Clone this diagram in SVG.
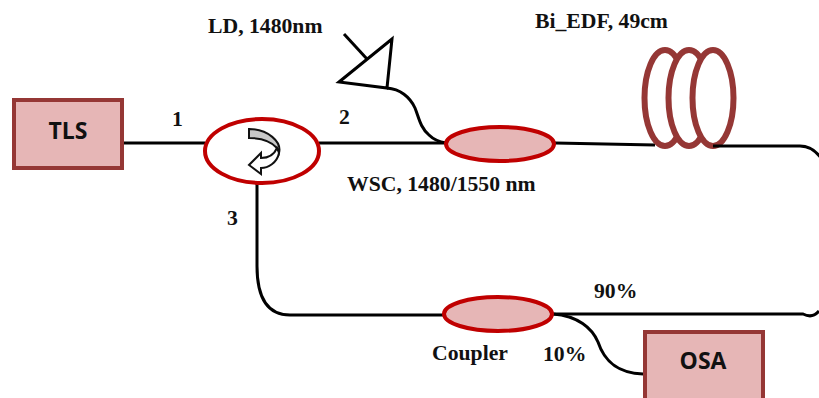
<svg xmlns="http://www.w3.org/2000/svg" width="819" height="398" viewBox="0 0 819 398">
<style>
.lbl{font-family:"Liberation Serif","Times New Roman",serif;font-weight:bold;font-size:21.7px;fill:#111}
.box{fill:#e6b6b6;stroke:#953735;stroke-width:4}
.boxt{font-family:"Open Sans","Liberation Sans",sans-serif;font-weight:bold;font-size:23px;fill:#111;text-anchor:middle}
.fib{fill:none;stroke:#000;stroke-width:3}
.cpl{fill:#e6b6b6;stroke:#c00000;stroke-width:4}
.coil{fill:#fff;stroke:#953735;stroke-width:6}
</style>
<rect width="819" height="398" fill="#fff"/>
<g id="connectors">
<path class="fib" d="M122 143H205"/>
<path class="fib" d="M319 143H446"/>
<path class="fib" d="M387 88C400 89 410 97 415 108C419 118 420 127 429 135C434 140 440 142 446 143"/>
<path class="fib" d="M555 143L655 145"/>
<path class="fib" d="M257 184V266C257 296 266 315 290 315H446"/>
<path class="fib" d="M553 314H803C809 317 815 316 819 311"/>
<path class="fib" d="M553 314C578 316 592 328 598 342C604 360 616 373 643 374"/>
</g>
<g id="tls"><rect class="box" x="14" y="100" width="108" height="68"/><text class="boxt" x="68" y="139">TLS</text></g>
<g id="osa"><rect class="box" x="645" y="332" width="118" height="70"/><text class="boxt" x="703" y="369">OSA</text></g>
<g id="circulator">
<ellipse cx="262" cy="151" rx="57" ry="32" fill="#fff" stroke="#c00000" stroke-width="4"/>
<path d="M249 129V138C259 138 270 140 277 148L279 153C282 142 268 129 249 129Z" fill="#c8c8c8" stroke="#111" stroke-width="2"/>
<path d="M279 153C277 163 268 168 261 168V174L249 165L261 153V158C268 158 274 155 277 148Z" fill="#fff" stroke="#111" stroke-width="2"/>
</g>
<g id="ld"><path d="M339 82L392 39L387 88Z" fill="#fff" stroke="#000" stroke-width="3"/><path class="fib" d="M344 34L367 59"/></g>
<g id="wsc"><ellipse class="cpl" cx="500" cy="144" rx="54" ry="17"/></g>
<g id="coupler"><ellipse class="cpl" cx="498" cy="314" rx="54" ry="17"/></g>
<g id="edf">
<ellipse class="coil" cx="665" cy="98" rx="20.5" ry="48"/>
<ellipse class="coil" cx="689" cy="98" rx="20.5" ry="48"/>
<ellipse class="coil" cx="713" cy="98" rx="20.5" ry="48"/>
<path class="fib" d="M713 146H800C810 146 816 151 821 158"/>
</g>
<g id="labels">
<text class="lbl" x="208" y="33">LD, 1480nm</text>
<text class="lbl" x="535" y="28">Bi_EDF, 49cm</text>
<text class="lbl" x="172" y="126">1</text>
<text class="lbl" x="339" y="124">2</text>
<text class="lbl" x="227" y="225">3</text>
<text class="lbl" x="347" y="191">WSC, 1480/1550 nm</text>
<text class="lbl" x="594" y="298">90%</text>
<text class="lbl" x="432" y="360">Coupler</text>
<text class="lbl" x="543" y="361">10%</text>
</g>
</svg>
